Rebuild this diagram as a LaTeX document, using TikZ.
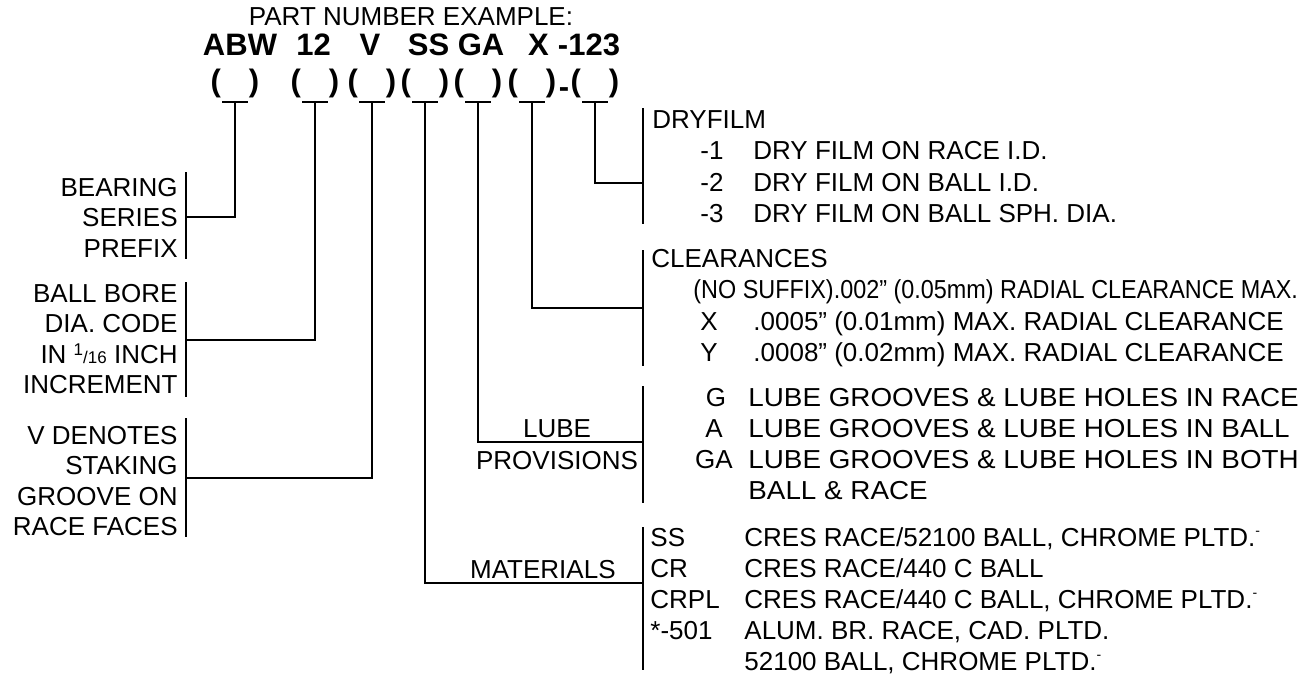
\documentclass[tikz,border=0pt]{standalone}
\usepackage{graphicx}
\usepackage{fontspec}
\setmainfont{Liberation Sans}
\usepackage{tikz}
\usetikzlibrary{positioning}
\newcommand\txtfont{\fontsize{13}{15.5}\selectfont}
\newcommand\bigfont{\fontsize{15.5}{18}\selectfont\bfseries}
\newcommand\sixteenth{{\fontsize{8.5}{9}\selectfont\raisebox{4pt}{1}/16}}
\newcommand\pltd{\raisebox{5.5pt}{\fontsize{7}{7}\selectfont -}}
\newcommand\wide[1]{\scalebox{1.07}[1]{#1}}
\tikzset{
  lead/.style={line width=0.75pt},
  txt/.style={font=\txtfont, inner sep=0pt},
  lft/.style={txt, anchor=base east},
  rgt/.style={txt, anchor=base west},
  mid/.style={txt, anchor=base},
  big/.style={font=\bigfont, inner sep=0pt, anchor=base}}

\begin{document}
\begin{tikzpicture}[x=0.5pt,y=-0.5pt]
\useasboundingbox (0,0) rectangle (1310,676);
% part number
\node[mid] (title) at (411,25) {PART NUMBER EXAMPLE:};
\node[big] (abw) at (240,55) {ABW};
\node[big] (size) at (313.5,55) {12};
\node[big] (vee) at (370,55) {V};
\node[big] (ss) at (428.5,55) {SS};
\node[big] (ga) at (481,55) {GA};
\node[big] (ex) at (538.5,55) {X};
\node[big] (num) at (589,55) {-123};
\foreach \x [count=\i] in {235,315,372,425,478,532,595}{
  \node[big] (p\i) at (\x,91) {(\hspace{0.9em})};
  \coordinate (tk\i) at (\x,102);
  \draw[lead] (tk\i) +(-13,0) -- +(13,0);
}
\node[big] (hy) at (564,97) {-};
% left side
\foreach \t [count=\i] in {BEARING,SERIES,PREFIX}
  \node[lft] (bsp\i) at (178,{196+30.5*(\i-1)}) {\t};
\foreach \t [count=\i] in {BALL BORE,DIA. CODE,IN \sixteenth{} INCH,INCREMENT}
  \node[lft] (bbd\i) at (178,{302+30.5*(\i-1)}) {\t};
\foreach \t [count=\i] in {V DENOTES,STAKING,GROOVE ON,RACE FACES}
  \node[lft] (vst\i) at (178,{444+30.5*(\i-1)}) {\t};
\draw[lead] (186,172) -- (186,259);
\draw[lead] (186,282) -- (186,397);
\draw[lead] (186,418) -- (186,537);
\coordinate (b1) at (186,217);
\coordinate (b2) at (186,340);
\coordinate (b3) at (186,478);
\draw[lead] (tk1) |- (b1);
\draw[lead] (tk2) |- (b2);
\draw[lead] (tk3) |- (b3);
% right side
\draw[lead] (643,108) -- (643,224);
\draw[lead] (643,250) -- (643,366);
\draw[lead] (643,386) -- (643,503);
\draw[lead] (643,527) -- (643,670);
\coordinate (b4) at (643,583);
\coordinate (b5) at (643,442);
\coordinate (b6) at (643,308);
\coordinate (b7) at (643,183);
\draw[lead] (tk4) |- (b4);
\draw[lead] (tk5) |- (b5);
\draw[lead] (tk6) |- (b6);
\draw[lead] (tk7) |- (b7);

\node[rgt] (dry) at (652,128) {DRYFILM};
\foreach \c/\t [count=\i] in {-1/DRY FILM ON RACE I.D.,-2/DRY FILM ON BALL I.D.,-3/DRY FILM ON BALL SPH. DIA.}{
  \node[rgt] (dryc\i) at (700,{128+31.5*\i}) {\c};
  \node[rgt] (dryt\i) at (753,{128+31.5*\i}) {\t};
}

\node[rgt] (clr) at (651,267) {CLEARANCES};
\node[rgt] (clr0) at (693,298) {\scalebox{0.9}[1]{(NO SUFFIX).002” (0.05mm) RADIAL CLEARANCE MAX.}};
\node[mid] (clrx) at (709,330) {X};
\node[rgt] (clrxt) at (753,330) {.0005” (0.01mm) MAX. RADIAL CLEARANCE};
\node[mid] (clry) at (709,361) {Y};
\node[rgt] (clryt) at (753,361) {.0008” (0.02mm) MAX. RADIAL CLEARANCE};

\node[mid] (lube) at (557,437) {LUBE};
\node[mid] (prov) at (557,469) {PROVISIONS};
\node[mid] (lubg) at (716,406) {G};
\node[rgt] (lubgt) at (748,406) {\wide{LUBE GROOVES \& LUBE HOLES IN RACE}};
\node[mid] (luba) at (714,437) {A};
\node[rgt] (lubat) at (748,437) {\wide{LUBE GROOVES \& LUBE HOLES IN BALL}};
\node[mid] (lubga) at (714,468) {GA};
\node[rgt] (lubgat) at (748,468) {\wide{LUBE GROOVES \& LUBE HOLES IN BOTH}};
\node[rgt] (lubgat2) at (748,499) {\wide{BALL \& RACE}};

\node[lft] (mat) at (616,578) {MATERIALS};
\node[rgt] (mss) at (650,546) {SS};
\node[rgt] (msst) at (744,546) {CRES RACE/52100 BALL, CHROME PLTD.\pltd};
\node[rgt] (mcr) at (650,577) {CR};
\node[rgt] (mcrt) at (744,577) {CRES RACE/440 C BALL};
\node[rgt] (mcrpl) at (650,608) {CRPL};
\node[rgt] (mcrplt) at (744,608) {CRES RACE/440 C BALL, CHROME PLTD.\pltd};
\node[rgt] (mal) at (650,639) {*-501};
\node[rgt] (malt) at (744,639) {ALUM. BR. RACE, CAD. PLTD.};
\node[rgt] (malt2) at (744,670) {52100 BALL, CHROME PLTD.\pltd};
\end{tikzpicture}
\end{document}
